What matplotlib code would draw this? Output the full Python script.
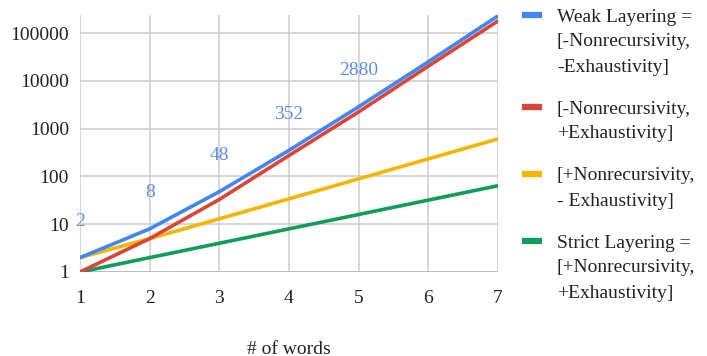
import matplotlib.pyplot as plt
from matplotlib.lines import Line2D
from matplotlib.ticker import FixedLocator, FixedFormatter

# number of words vs. number of possible structures
words = [1, 2, 3, 4, 5, 6, 7]
weak = [2, 8, 48, 352, 2880, 25200, 230000]
nonrec_minus_exh_plus = [1, 5, 33, 275, 2250, 20400, 180000]
nonrec_plus_exh_minus = [2, 5, 13, 34, 89, 233, 610]
strict = [1, 2, 4, 8, 16, 32, 64]

labelled_points = 5  # value labels drawn on the first five weak-layering points

series_names = [
    ["Weak Layering =", "[-Nonrecursivity,", "-Exhaustivity]"],
    ["[-Nonrecursivity,", "+Exhaustivity]"],
    ["[+Nonrecursivity,", "- Exhaustivity]"],
    ["Strict Layering =", "[+Nonrecursivity,", "+Exhaustivity]"],
]
colors = ["#4285F4", "#DB4437", "#F4B400", "#0F9D58"]

plt.rcParams["font.family"] = ["Liberation Serif", "DejaVu Serif"]

W, H = 707, 356
fig = plt.figure(figsize=(W / 100, H / 100), dpi=100)
ax = fig.add_axes([80 / W, 1 - 272 / H, (498 - 80) / W, (272 - 15) / H])

all_series = [weak, nonrec_minus_exh_plus, nonrec_plus_exh_minus, strict]
# draw bottom-most series first so blue ends up on top
for vals, col in reversed(list(zip(all_series, colors))):
    ax.plot(words, vals, color=col, lw=2.6, solid_capstyle="round", zorder=3)

for x, v in zip(words[:labelled_points], weak[:labelled_points]):
    ax.annotate(str(v), (x, v), xytext=(0, 26), textcoords="offset points",
                ha="center", va="center", fontsize=14, color="#5b8fe6", zorder=4)

ax.set_yscale("log")
ax.set_xlim(1, 7)
ax.set_ylim(1, 240000)
yt = [1, 10, 100, 1000, 10000, 100000]
ax.yaxis.set_major_locator(FixedLocator(yt))
ax.yaxis.set_major_formatter(FixedFormatter([str(t) for t in yt]))
ax.yaxis.set_minor_locator(FixedLocator([]))
ax.set_xticks(words)

ax.grid(True, color="#cccccc", lw=1.1)
ax.set_axisbelow(True)
for s in ax.spines.values():
    s.set_visible(False)
ax.axhline(1, color="#bbbbbb", lw=1.3, zorder=1)
ax.tick_params(length=0, labelsize=14, colors="#222222")
ax.tick_params(axis="y", pad=8)
ax.tick_params(axis="x", pad=13)

fig.text(289 / W, 1 - 349 / H, "# of words", ha="center", va="center",
         fontsize=14, color="#222222")

# legend, one handle per entry aligned with its first line
line_rows = [[17, 42, 67], [109, 134], [176, 201], [243, 268, 293]]
for rows, lines, col in zip(line_rows, series_names, colors):
    yh = 1 - (rows[0] - 2) / H
    fig.add_artist(Line2D([522 / W, 542 / W], [yh, yh], transform=fig.transFigure,
                          color=col, lw=4.5, solid_capstyle="butt"))
    for r, txt in zip(rows, lines):
        fig.text(557 / W, 1 - r / H, txt, ha="left", va="center",
                 fontsize=14, color="#222222")

fig.savefig("out.png", dpi=100)
